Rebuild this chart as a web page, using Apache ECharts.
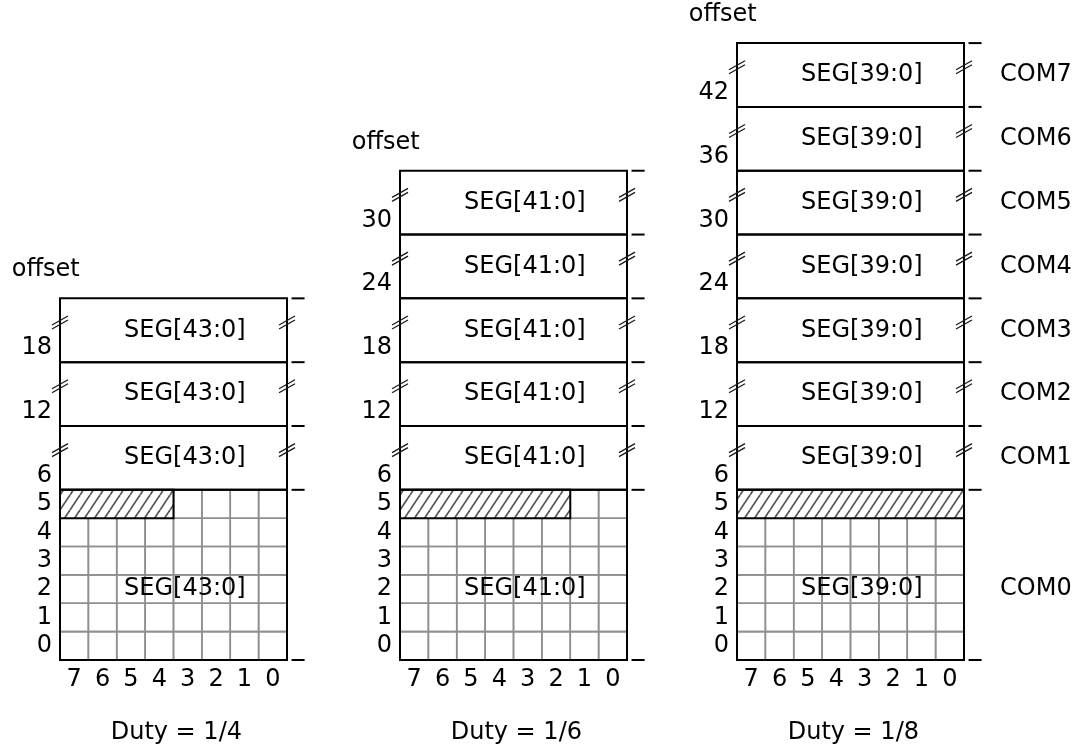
<!DOCTYPE html>
<html>
<head>
<meta charset="utf-8">
<script src="https://cdn.jsdelivr.net/npm/echarts@6/dist/echarts.min.js"></script>
<style>
  html, body { margin: 0; background: #fff; }
  #main { width: 1073px; height: 744px; }
</style>
</head>
<body>
<div id="main"></div>
<script>
// ---- data ----
const duties = ['1/4', '1/6', '1/8'];
const segNames = ['SEG[43:0]', 'SEG[41:0]', 'SEG[39:0]'];
const comOffsets = [
  [6, 12, 18],
  [6, 12, 18, 24, 30],
  [6, 12, 18, 24, 30, 36, 42]
];
const hatchBits = [4, 6, 8];        // how many bit columns (from bit 7) are hatched in row 5
const rowLabels = [0, 1, 2, 3, 4, 5];
const bitLabels = [7, 6, 5, 4, 3, 2, 1, 0];
const comLabels = ['COM0', 'COM1', 'COM2', 'COM3', 'COM4', 'COM5', 'COM6', 'COM7'];

// ---- layout ----
const panelLeft = [60, 400, 737];
const panelWidth = 227;
const BOX_H = 2.25;                  // height of a SEG row block, in bit-row units
const GRID_ROWS = 5;                 // rows 0..5 drawn as plain cells
const FONT = '"DejaVu Sans", Verdana, sans-serif';
const FS = 24;

const chart = echarts.init(document.getElementById('main'), null, { renderer: 'canvas' });

// diagonal hatch pattern (white ground so the cell lines don't show through)
function hatchPattern() {
  const c = document.createElement('canvas');
  c.width = 10; c.height = 15;
  const g = c.getContext('2d');
  g.fillStyle = '#fff';
  g.fillRect(0, 0, 10, 15);
  g.strokeStyle = '#555';
  g.lineWidth = 1.7;
  [-10, 0, 10].forEach(function (dx) {
    g.beginPath();
    g.moveTo(dx, 15);
    g.lineTo(dx + 10, 0);
    g.stroke();
  });
  return c;
}
const hatch = { image: hatchPattern(), repeat: 'repeat' };

// build the list of shapes for one panel (all in axis units)
function panelShapes(p) {
  const s = [];
  const offs = comOffsets[p];
  const top = 6 + offs.length * BOX_H;
  // bit cells (gray)
  for (let r = 0; r <= GRID_ROWS; r++) {
    for (let c = 0; c < bitLabels.length; c++) {
      s.push({ t: 'rect', x0: c, y0: r, x1: c + 1, y1: r + 1, stroke: '#8f8f8f', lw: 1.6 });
    }
  }
  // hatched area in row 5
  s.push({ t: 'rect', x0: 0, y0: 5, x1: hatchBits[p], y1: 6, stroke: '#000', lw: 2, fill: hatch });
  // frame of the bit grid
  s.push({ t: 'rect', x0: 0, y0: 0, x1: 8, y1: 6, stroke: '#000', lw: 2 });
  // SEG blocks
  offs.forEach(function (o, i) {
    const y0 = 6 + i * BOX_H, y1 = y0 + BOX_H;
    s.push({ t: 'rect', x0: 0, y0: y0, x1: 8, y1: y1, stroke: '#000', lw: 2 });
    s.push({ t: 'text', x: 4.4, y: (y0 + y1) / 2, text: segNames[p], align: 'center' });
    s.push({ t: 'text', x: 0, y: y0 + 0.5, dx: -8, text: String(o), align: 'right' });
    s.push({ t: 'brk', x: 0, y: y1 - 0.85 });
    s.push({ t: 'brk', x: 8, y: y1 - 0.85 });
  });
  // right-side ticks at block boundaries
  const bounds = [0, 6].concat(offs.map(function (o, i) { return 6 + (i + 1) * BOX_H; }));
  bounds.forEach(function (b) {
    s.push({ t: 'line', x0: 8.16, y0: b, x1: 8.62, y1: b, stroke: '#000', lw: 2 });
  });
  // seg label in the bit grid
  s.push({ t: 'text', x: 4.4, y: 2.5, text: segNames[p], align: 'center' });
  // row labels
  rowLabels.forEach(function (r) {
    s.push({ t: 'text', x: 0, y: r + 0.5, dx: -8, text: String(r), align: 'right' });
  });
  // bit labels
  bitLabels.forEach(function (b, i) {
    s.push({ t: 'text', x: i + 0.5, y: -0.68, text: String(b), align: 'center' });
  });
  s.push({ t: 'text', x: 4.1, y: -2.55, text: 'Duty = ' + duties[p], align: 'center' });
  s.push({ t: 'text', x: -1.7, y: top + 1, text: 'offset', align: 'left' });
  // COM labels only on the 1/8 panel
  if (p === 2) {
    s.push({ t: 'text', x: 9.27, y: 2.5, text: comLabels[0], align: 'left' });
    offs.forEach(function (o, i) {
      s.push({ t: 'text', x: 9.27, y: 6 + (i + 0.5) * BOX_H, text: comLabels[i + 1], align: 'left' });
    });
  }
  return s;
}

function makeRender(shapes) {
  return function (params, api) {
    const d = shapes[params.dataIndex];
    if (d.t === 'rect') {
      const a = api.coord([d.x0, d.y1]), b = api.coord([d.x1, d.y0]);
      return {
        type: 'rect',
        shape: { x: a[0], y: a[1], width: b[0] - a[0], height: b[1] - a[1] },
        style: { fill: d.fill || 'none', stroke: d.stroke, lineWidth: d.lw }
      };
    }
    if (d.t === 'line') {
      const a = api.coord([d.x0, d.y0]), b = api.coord([d.x1, d.y1]);
      return {
        type: 'line',
        shape: { x1: a[0], y1: a[1], x2: b[0], y2: b[1] },
        style: { stroke: d.stroke, lineWidth: d.lw }
      };
    }
    if (d.t === 'brk') {
      // little "//" break mark straddling the border
      const c = api.coord([d.x, d.y]);
      const mk = function (off) {
        return {
          type: 'line',
          shape: { x1: c[0] - 8, y1: c[1] + 4.5 + off, x2: c[0] + 8, y2: c[1] - 4.5 + off },
          style: { stroke: '#1a1a1a', lineWidth: 1.3 }
        };
      };
      return { type: 'group', children: [mk(-2), mk(2)] };
    }
    // text
    const c = api.coord([d.x, d.y]);
    return {
      type: 'text',
      x: c[0] + (d.dx || 0),
      y: c[1],
      style: {
        text: d.text,
        fill: '#000',
        font: FS + 'px ' + FONT,
        align: d.align,
        verticalAlign: 'middle'
      }
    };
  };
}

const grids = [], xAxes = [], yAxes = [], series = [];
duties.forEach(function (duty, p) {
  grids.push({ left: panelLeft[p], width: panelWidth, top: 36, bottom: 84 });
  xAxes.push({ gridIndex: p, type: 'value', min: 0, max: 8, show: false });
  yAxes.push({ gridIndex: p, type: 'value', min: 0, max: 22, show: false });
  const shapes = panelShapes(p);
  series.push({
    type: 'custom',
    xAxisIndex: p,
    yAxisIndex: p,
    clip: false,
    silent: true,
    data: shapes.map(function (sh, i) { return [i]; }),
    renderItem: makeRender(shapes)
  });
});

chart.setOption({
  animation: false,
  backgroundColor: '#fff',
  grid: grids,
  xAxis: xAxes,
  yAxis: yAxes,
  series: series
});
</script>
</body>
</html>
